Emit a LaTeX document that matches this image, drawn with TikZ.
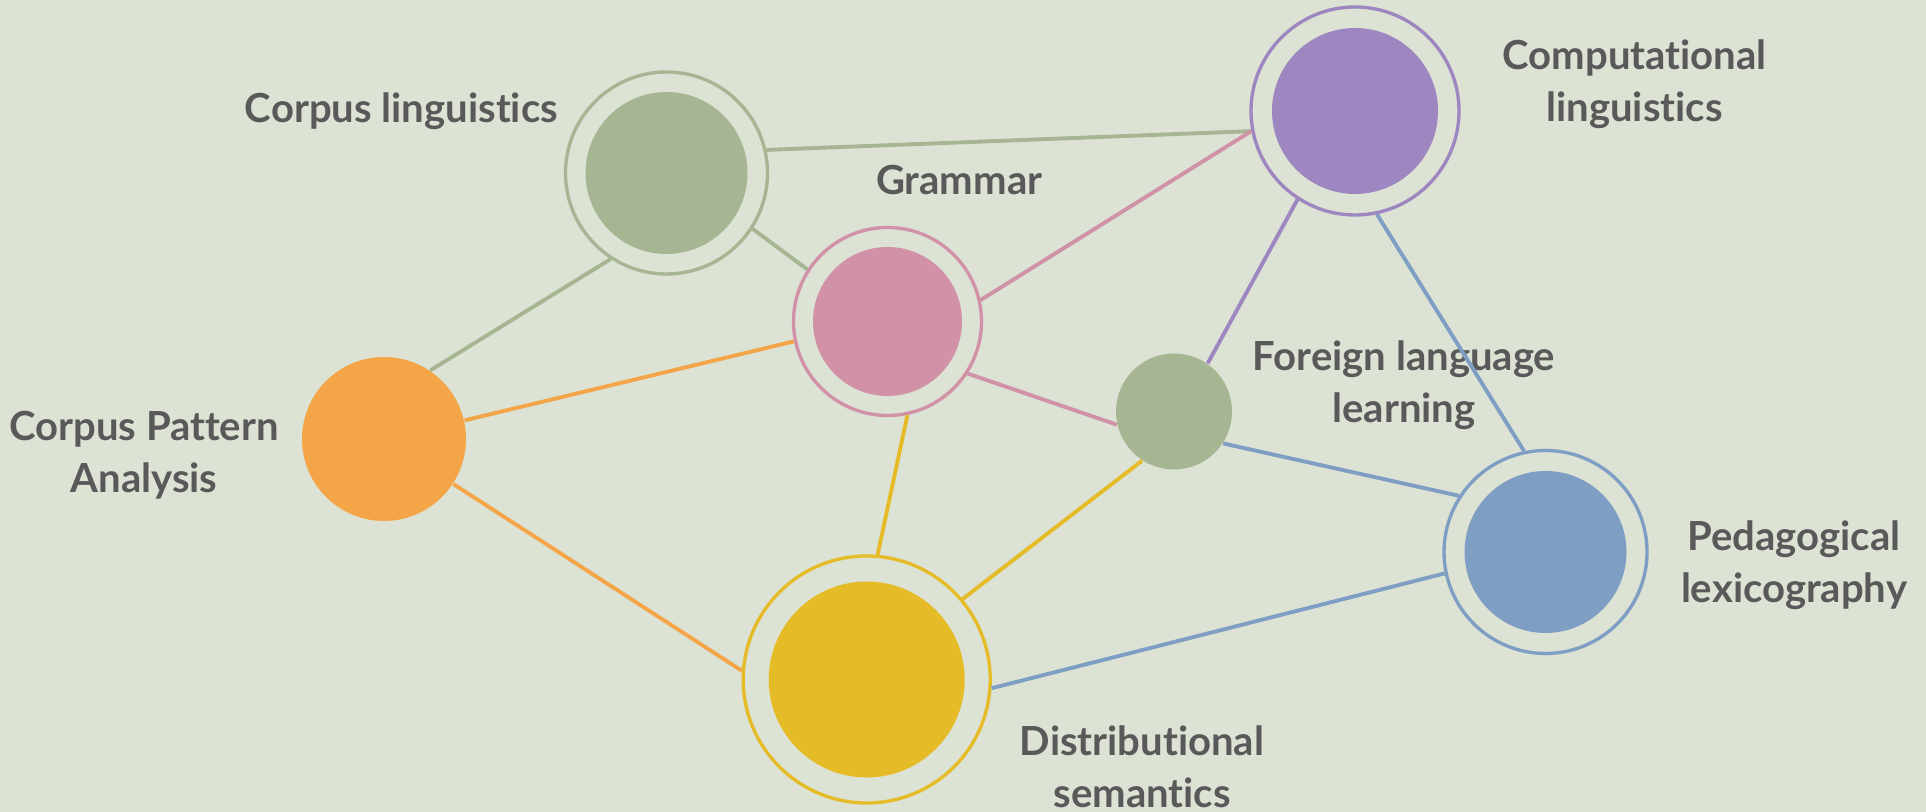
\documentclass[tikz,border=0pt]{standalone}
\usepackage{fontspec}
\setmainfont{Lato}[Ligatures={NoCommon}]

\definecolor{bgsage}{HTML}{DCE2D4}
\definecolor{labelgray}{HTML}{595959}
\definecolor{sage}{HTML}{A6B592}
\definecolor{lavender}{HTML}{9E86C1}
\definecolor{rose}{HTML}{D191A6}
\definecolor{apricot}{HTML}{F3A548}
\definecolor{mustard}{HTML}{E5BC28}
\definecolor{steel}{HTML}{7F9EC4}

\begin{document}
\begin{tikzpicture}[
			every node/.style={font=\fontsize{11.4}{14.8}\selectfont\bfseries, text=labelgray},
			ring/.style n args={3}{circle, draw=#1, line width=0.95pt, inner sep=0pt, minimum size=#2,
				path picture={\fill[#1] (path picture bounding box.center) circle (#3);}},
			disc/.style 2 args={circle, fill=#1, inner sep=0pt, minimum size=#2},
			link/.style={draw=#1, line width=1.1pt}
			]

			\fill[bgsage] (0,0) rectangle (19.26,8.12);
			\useasboundingbox (0,0) rectangle (19.26,8.12);

			\node[ring={sage}{2.02cm}{0.81cm}] (corpling) at (6.665,6.39) {};
			\node[ring={lavender}{2.08cm}{0.83cm}] (complin) at (13.55,7.01) {};
			\node[ring={rose}{1.88cm}{0.745cm}] (grammar) at (8.875,4.905) {};
			\node[disc={apricot}{1.64cm}] (cpa) at (3.84,3.73) {};
			\node[disc={sage}{1.16cm}] (fll) at (11.74,4.005) {};
			\node[ring={steel}{2.03cm}{0.81cm}] (pedlex) at (15.455,2.60) {};
			\node[ring={mustard}{2.47cm}{0.98cm}] (distsem) at (8.667,1.325) {};

			\node[anchor=base] (corplinglabel) at (4.015,6.897) {Corpus linguistics};
			\node[anchor=base] (grammarlabel) at (9.592,6.177) {Grammar};
			\node[align=center] (complinlabel) at (16.345,7.28) {Computational\\linguistics};
			\node[align=center] (cpalabel) at (1.44,3.57) {Corpus Pattern\\Analysis};
			\node[align=center] (flllabel) at (14.04,4.27) {Foreign language\\learning};
			\node[align=center] (pedlexlabel) at (17.94,2.47) {Pedagogical\\lexicography};
			\node[align=center] (distsemlabel) at (11.42,0.45) {Distributional\\semantics};

			\draw[link=sage] (corpling.13) -- (complin.191);
			\draw[link=sage] (corpling.-33) -- (grammar.147);
			\draw[link=sage] (corpling.237) -- (cpa.56);
			\draw[link=rose] (grammar.13) -- (complin.191);
			\draw[link=rose] (grammar.-33) -- (fll.193);
			\draw[link=apricot] (cpa.13) -- (grammar.192);
			\draw[link=apricot] (cpa.-33) -- (distsem.176);
			\draw[link=mustard] (grammar.-78) -- (distsem.85);
			\draw[link=mustard] (fll.237) -- (distsem.40);
			\draw[link=lavender] (complin.237) -- (fll.55);
			\draw[link=steel] (complin.-78) -- (pedlex.102);
			\draw[link=steel] (fll.-33) -- (pedlex.147);
			\draw[link=steel] (distsem.-4) -- (pedlex.192);

		\end{tikzpicture}
\end{document}
